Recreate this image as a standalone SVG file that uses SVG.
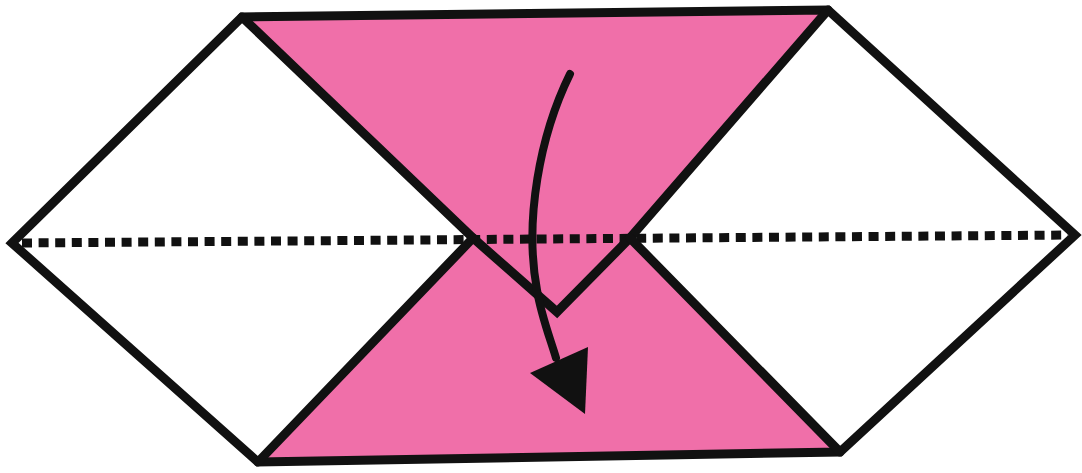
<svg xmlns="http://www.w3.org/2000/svg" width="1082" height="473" viewBox="0 0 1082 473">
<style>
.pink{fill:#f06fa9;stroke:none}
.white{fill:#ffffff;stroke:none}
.edge{fill:none;stroke:#111;stroke-width:9;stroke-linejoin:miter;stroke-linecap:round}
.fold{fill:none;stroke:#111;stroke-width:9;stroke-dasharray:10 6.6}
.arrow{fill:none;stroke:#111;stroke-width:8;stroke-linecap:round}
</style>
<rect width="1082" height="473" fill="#ffffff"/>
<g id="bottom-flap">
<polygon class="pink" points="473,240 630,238 840,452 258,462"/>
</g>
<g id="left-rhombus">
<polygon class="white" points="12,243 242,17 473,238 258,462"/>
</g>
<g id="right-rhombus">
<polygon class="white" points="828,10 1075,235 840,452 630,238"/>
</g>
<g id="top-flap">
<polygon class="pink" points="242,17 828,10 630,238 557,312 473,238"/>
</g>
<g id="fold-line">
<line class="fold" x1="22" y1="243" x2="1068" y2="235"/>
</g>
<g id="outlines">
<polygon class="edge" points="12,243 242,17 828,10 1075,235 840,452 258,462"/>
<polyline class="edge" points="242,17 473,238 557,312 630,238 828,10"/>
<line class="edge" x1="473" y1="238" x2="258" y2="462"/>
<line class="edge" x1="630" y1="238" x2="840" y2="452"/>
</g>
<g id="connectors">
<path class="arrow" d="M570,74 C540,135 524,220 537,290 C541,315 550,338 556,358"/>
<polygon fill="#111" points="530,373 588,347 585,414"/>
</g>
</svg>
